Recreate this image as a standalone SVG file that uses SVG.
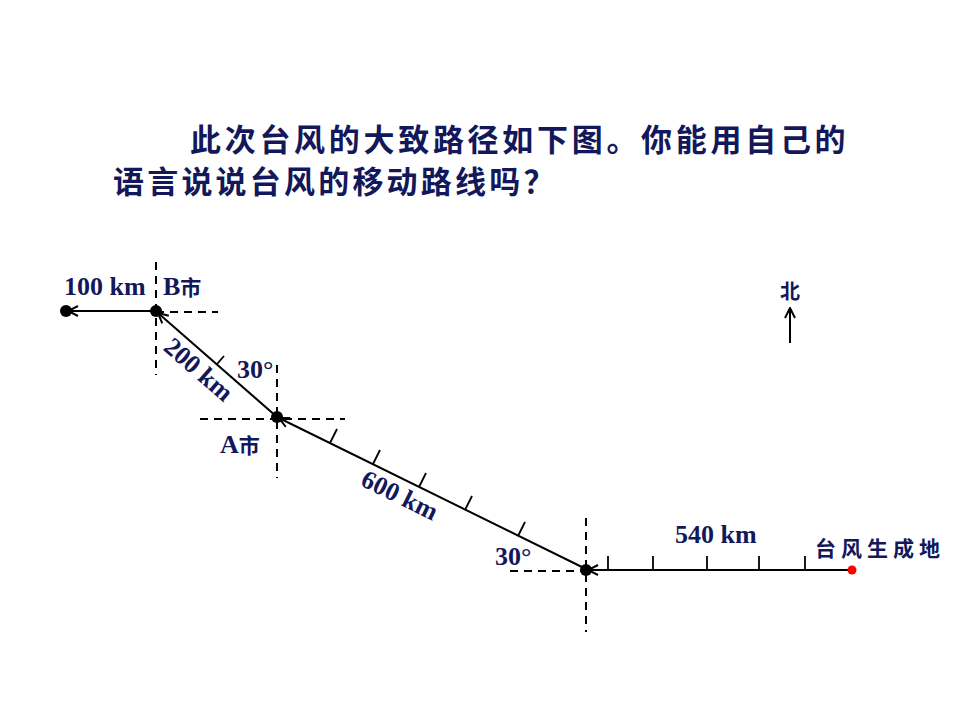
<svg xmlns="http://www.w3.org/2000/svg" width="960" height="720" viewBox="0 0 960 720">
<defs>
<style>
.cn{font-family:"Noto Sans CJK SC","Noto Sans",sans-serif;font-weight:bold;fill:#12185a}
.lat{font-family:"Liberation Serif","Times New Roman",serif;font-weight:bold;fill:#12185a;font-size:26px}
.sol{stroke:#000;stroke-width:2;fill:none}
.dash{stroke:#000;stroke-width:2;fill:none;stroke-dasharray:8 6}
.tick{stroke:#000;stroke-width:1.8}
</style>
<marker id="arr" viewBox="0 0 12 12" refX="11" refY="6" markerWidth="12" markerHeight="12" markerUnits="userSpaceOnUse" orient="auto">
<path d="M1,1 L11,6 L1,11" fill="none" stroke="#000" stroke-width="2"/>
</marker>
</defs>
<rect width="960" height="720" fill="#fff"/>
<g id="title">
<text class="cn" x="190" y="151" font-size="31" letter-spacing="3.7">此次台风的大致路径如下图。你能用自己的</text>
<text class="cn" x="113" y="193" font-size="31" letter-spacing="3.2">语言说说台风的移动路线吗？</text>
</g>
<g id="guides">
<line class="dash" x1="156" y1="262" x2="156" y2="375"/>
<line class="dash" x1="156" y1="312" x2="218" y2="312"/>
<line class="dash" x1="277" y1="365" x2="277" y2="478"/>
<line class="dash" x1="200" y1="419" x2="345" y2="419"/>
<line class="dash" x1="586" y1="518" x2="586" y2="632"/>
<line class="dash" x1="510" y1="571" x2="586" y2="571"/>
</g>
<g id="connectors">
<line class="sol" x1="851" y1="570" x2="588" y2="570" marker-end="url(#arr)"/>
<line class="sol" x1="586" y1="569" x2="279" y2="418" marker-end="url(#arr)"/>
<line class="sol" x1="277" y1="417" x2="158" y2="313" marker-end="url(#arr)"/>
<line class="sol" x1="156" y1="311" x2="68" y2="311" marker-end="url(#arr)"/>
<line class="sol" x1="790" y1="343" x2="790" y2="308" marker-end="url(#arr)"/>
</g>
<g id="ticks">
<line class="tick" x1="608" y1="570" x2="608" y2="556"/>
<line class="tick" x1="653" y1="570" x2="653" y2="556"/>
<line class="tick" x1="707" y1="570" x2="707" y2="556"/>
<line class="tick" x1="759" y1="570" x2="759" y2="556"/>
<line class="tick" x1="805" y1="570" x2="805" y2="556"/>
<line class="tick" x1="330" y1="443" x2="337" y2="429"/>
<line class="tick" x1="373" y1="464" x2="380" y2="450"/>
<line class="tick" x1="419" y1="487" x2="426" y2="473"/>
<line class="tick" x1="465" y1="510" x2="472" y2="496"/>
<line class="tick" x1="518" y1="536" x2="525" y2="522"/>
<line class="tick" x1="217" y1="364" x2="224" y2="356"/>
</g>
<g id="node-left"><circle cx="66" cy="311" r="6" fill="#000"/></g>
<g id="node-B"><circle cx="156" cy="311" r="6" fill="#000"/></g>
<g id="node-A"><circle cx="277" cy="417" r="6" fill="#000"/></g>
<g id="node-C"><circle cx="586" cy="570" r="6" fill="#000"/></g>
<g id="node-origin"><circle cx="852" cy="570" r="4.5" fill="#f00"/></g>
<g id="labels">
<text class="lat" x="64" y="295">100 km</text>
<text class="lat" x="163" y="295">B<tspan class="cn" font-size="21">市</tspan></text>
<text class="lat" x="0" y="0" text-anchor="middle" transform="translate(193,376) rotate(41)">200 km</text>
<text class="lat" x="237" y="378">30°</text>
<text class="lat" x="220" y="453">A<tspan class="cn" font-size="21">市</tspan></text>
<text class="lat" x="0" y="0" text-anchor="middle" transform="translate(396,503) rotate(26)">600 km</text>
<text class="lat" x="495" y="565">30°</text>
<text class="lat" x="675" y="543">540 km</text>
<text class="cn" x="815" y="556" font-size="21" letter-spacing="5">台风生成地</text>
<text class="cn" x="790" y="299" font-size="20" text-anchor="middle">北</text>
</g>
</svg>
